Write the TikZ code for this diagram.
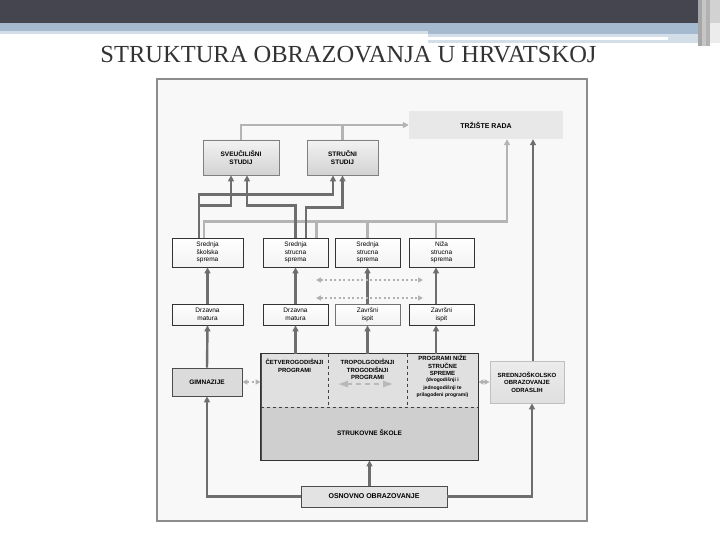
\documentclass[tikz,border=0pt]{standalone}
\usepackage{fontspec}
\setmainfont{Liberation Serif}
\setsansfont{Liberation Sans}
\usetikzlibrary{arrows.meta}
\definecolor{zaglavlje}{HTML}{45454F}
\definecolor{plava}{HTML}{A5BACE}
\definecolor{svplava}{HTML}{D3DEE8}
\definecolor{okvir}{HTML}{8C8C8C}
\definecolor{podloga}{HTML}{F8F8F8}
\definecolor{tamna}{HTML}{6E6E6E}
\definecolor{svijetla}{HTML}{B4B4B4}
\tikzset{
  kutija/.style = {rectangle, draw=black!80, line width=0.8pt, top color=white, bottom color=gray!10, font=\sffamily\fontsize{6.5}{7.8}\selectfont, align=center, inner sep=0pt},
  studij/.style = {rectangle, draw=black!50, line width=0.8pt, top color=gray!10, bottom color=gray!35, font=\sffamily\bfseries\fontsize{6.5}{8}\selectfont, align=center, inner sep=0pt},
  siva/.style   = {rectangle, draw=black!70, line width=0.8pt, fill=gray!28, font=\sffamily\bfseries\fontsize{6.5}{8}\selectfont, align=center, inner sep=0pt},
  veza/.style   = {draw=tamna, line width=2.4pt, >={Triangle[length=6pt,width=6pt]}},
  svveza/.style = {draw=svijetla, line width=2.2pt, >={Triangle[length=6pt,width=6pt]}},
  tocke/.style  = {draw=gray!60, line width=2pt, dash pattern=on 2pt off 2.5pt, <->, >={Triangle[length=5pt,width=5pt]}},
  et/.style     = {font=\sffamily\bfseries\fontsize{6}{7.6}\selectfont, align=center, inner sep=0pt}
}
\begin{document}
\begin{tikzpicture}[x=1pt,y=-1pt]
  \useasboundingbox (0,0) rectangle (720,540);
  % zaglavlje
  \fill[zaglavlje] (0,0) rectangle (698,23);
  \fill[plava] (0,23) rectangle (698,31); \fill[svplava] (0,31) rectangle (428,34);
  \fill[plava] (428,31) rectangle (698,34); \fill[svplava] (428,34) rectangle (698,43);
  \fill[white] (428,37) rectangle (668,40);
  \fill[gray!70] (698,0) rectangle (702,46); \fill[gray!45] (702,0) rectangle (706,46);
  \fill[gray!60] (706,0) rectangle (710,46); \fill[gray!35] (710,0) rectangle (720,23);
  \fill[gray!15] (710,23) rectangle (720,43);
  \node[anchor=base, font=\fontsize{24.5}{26}\selectfont, text=black!80, inner sep=0pt] (naslov) at (348.5,63) {STRUKTURA OBRAZOVANJA U HRVATSKOJ};
  \draw[okvir, fill=podloga, line width=1.5pt] (157,79) rectangle (587,521);

  \node[rectangle, fill=gray!18, minimum width=154pt, minimum height=28pt, font=\sffamily\bfseries\fontsize{7}{8}\selectfont] (tr) at (486,125) {TRŽIŠTE RADA};
  \node[studij, minimum width=76pt, minimum height=35pt] (sv) at (241,157.5) {SVEUČILIŠNI\\STUDIJ};
  \node[studij, minimum width=71pt, minimum height=35pt] (st) at (342.5,157.5) {STRUČNI\\STUDIJ};

  \node[kutija, minimum width=71pt, minimum height=29pt] (ss)  at (207.5,252.5) {Srednja\\školska\\sprema};
  \node[kutija, minimum width=65pt, minimum height=29pt] (sz1) at (295.5,252.5) {Srednja\\strucna\\sprema};
  \node[kutija, minimum width=65pt, minimum height=29pt] (sz2) at (367.5,252.5) {Srednja\\strucna\\sprema};
  \node[kutija, minimum width=65pt, minimum height=29pt] (ns)  at (441.5,252.5) {Niža\\strucna\\sprema};
  \node[kutija, minimum width=71pt, minimum height=21pt] (dm1) at (207.5,314.5) {Drzavna\\matura};
  \node[kutija, minimum width=65pt, minimum height=21pt] (dm2) at (295.5,314.5) {Drzavna\\matura};
  \node[kutija, draw=black!55, minimum width=65pt, minimum height=21pt] (zi1) at (367.5,314.5) {Završni\\ispit};
  \node[kutija, minimum width=65pt, minimum height=21pt] (zi2) at (441.5,314.5) {Završni\\ispit};

  \node[siva, minimum width=70pt, minimum height=28pt] (gim) at (207,382) {GIMNAZIJE};
  \node[siva, fill=gray!38, line width=0.9pt, minimum width=217pt, minimum height=106pt] (sk) at (369.5,407) {};
  \node[fill=gray!24, minimum width=216pt, minimum height=52.5pt, anchor=south, inner sep=0pt] (skg) at (sk.center) {};
  \draw[black!80, line width=0.9pt] (sk.south west) rectangle (sk.north east);
  \draw[black!75, dashed] (sk.west) -- (sk.east);
  \draw[black!75, dashed] ([xshift=-41.5pt]sk.north) -- ([xshift=-41.5pt]sk.center);
  \draw[black!75, dashed] ([xshift=37.5pt]sk.north) -- ([xshift=37.5pt]sk.center);
  \node[et, anchor=north] (c4) at (294.5,359) {ČETVEROGODIŠNJI\\PROGRAMI};
  \node[et, anchor=north] (c3) at (367.5,359) {TROPOLGODIŠNJI\\TROGODIŠNJI\\PROGRAMI};
  \node[et, anchor=north] (cn) at (442.5,355) {PROGRAMI NIŽE\\STRUČNE\\SPREME};
  \node[et, anchor=north, font=\sffamily\bfseries\fontsize{5}{7.4}\selectfont] (cnm) at (442.5,378) {(dvogodišnji i\\jednogodišnji te\\prilagođeni programi)};
  \node[et, font=\sffamily\bfseries\fontsize{6.5}{8}\selectfont] (skt) at (369.5,433) {STRUKOVNE ŠKOLE};
  \node[studij, draw=gray!50, top color=gray!15, bottom color=gray!25, font=\sffamily\bfseries\fontsize{6}{7.6}\selectfont, minimum width=74pt, minimum height=42pt] (so) at (527,382) {SREDNJOŠKOLSKO\\OBRAZOVANJE\\ODRASLIH};
  \node[siva, fill=gray!22, font=\sffamily\bfseries\fontsize{7}{8}\selectfont, minimum width=146pt, minimum height=21pt] (os) at (374,496.5) {OSNOVNO OBRAZOVANJE};

  % svijetle veze
  \draw[svveza, ->] (sv.north) |- (tr.west); \draw[svveza] (st.north) -- (st.north |- tr.west);
  \draw[svveza, ->] ([xshift=-3.5pt]ss.north) -- ++(0,-16) -| ([xshift=21pt]tr.south);
  \draw[svveza] ([xshift=21pt]sz1.north) -- ++(0,-16); \draw[svveza] (sz2.north) -- ++(0,-16);
  \draw[svveza] ([xshift=-5.5pt]ns.north) -- ++(0,-16);
  % tamne veze
  \draw[veza, ->] ([xshift=-8.5pt]ss.north) -- ++(0,-43) -| ([xshift=-9.5pt]st.south);
  \draw[veza, ->] ([xshift=-8.5pt]ss.north) -- ++(0,-32) -| ([xshift=-10pt]sv.south);
  \draw[veza, ->] (sz1.north) -- ++(0,-32) -| ([xshift=6pt]sv.south);
  \draw[veza, ->] ([xshift=10.5pt]sz1.north) -- ++(0,-30) -| (st.south);
  \draw[veza, ->] (dm1.north) -- (ss.south); \draw[veza, ->] (dm2.north) -- (sz1.south);
  \draw[veza, ->] (zi1.north) -- (sz2.south); \draw[veza, ->] ([xshift=-5.5pt]zi2.north) -- ([xshift=-5.5pt]ns.south);
  \draw[veza, ->] (gim.north) -- (dm1.south);
  \draw[veza, <-] (dm2.south) -- ++(0,29); \draw[veza, <-] (zi1.south) -- ++(0,29);
  \draw[veza, <-] ([xshift=-5.5pt]zi2.south) -- ++(0,29);
  \draw[veza, ->] (sk.south |- os.north) -- (sk.south);
  \draw[veza, ->] (os.west) -| (gim.south); \draw[veza, ->] (os.east) -| ([xshift=5pt]so.south);
  \draw[veza, ->] ([xshift=6pt]so.north) -- ([xshift=47pt]tr.south);
  % isprekidane
  \draw[tocke] (gim.east) -- (gim.east -| sk.west); \draw[tocke] (so.west -| sk.east) -- (so.west);
  \coordinate (p1) at (316,280); \coordinate (p2) at (423,280); \draw[tocke] (p1) -- (p2);
  \coordinate (p3) at (316,298); \coordinate (p4) at (423,298); \draw[tocke] (p3) -- (p4);
  \coordinate (q1) at (338,384); \coordinate (q2) at (393,384);
  \draw[draw=gray!55, line width=2.4pt, dash pattern=on 5pt off 4pt, <->, >={Triangle[length=10pt,width=6pt]}] (q1) -- (q2);
\end{tikzpicture}
\end{document}
